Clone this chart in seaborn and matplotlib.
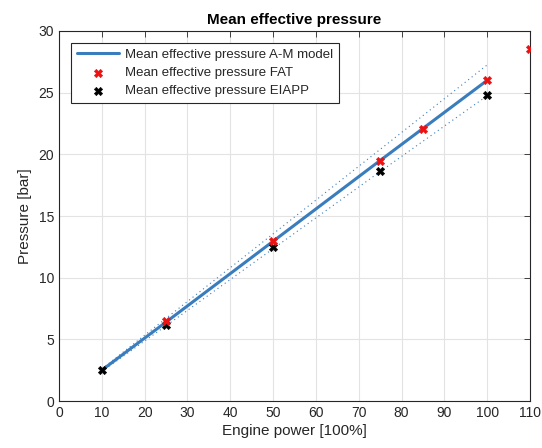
import matplotlib
matplotlib.use("Agg")
import matplotlib.pyplot as plt
import seaborn as sns
import pandas as pd

# data
model_power = [10, 25, 50, 75, 100]
model_mep = [2.5, 6.4, 12.95, 19.5, 26.0]
upper_mep = [2.6, 6.7, 13.55, 20.4, 27.25]
lower_mep = [2.4, 6.1, 12.35, 18.6, 24.75]
fat_power = [25, 50, 75, 85, 100, 110]
fat_mep = [6.5, 12.95, 19.45, 22.05, 26.0, 28.55]
eiapp_power = [10, 25, 50, 75, 100]
eiapp_mep = [2.5, 6.2, 12.45, 18.65, 24.85]

sns.set_style("white")
plt.rcParams['font.family'] = ['Liberation Sans', 'DejaVu Sans']

fig = plt.figure(figsize=(5.42, 4.48), dpi=100)
ax = fig.add_axes([59/542, 47/448, 471/542, 370/448])

blue = "#3a7dbd"
df_m = pd.DataFrame({"p": model_power, "m": model_mep, "u": upper_mep, "l": lower_mep})
sns.lineplot(data=df_m, x="p", y="m", ax=ax, color=blue, lw=2.2,
             label="Mean effective pressure A-M model")
sns.lineplot(data=df_m, x="p", y="u", ax=ax, color=blue, lw=0.8, ls=(0, (1, 3)), label="_nolegend_")
sns.lineplot(data=df_m, x="p", y="l", ax=ax, color=blue, lw=0.8, ls=(0, (1, 3)), label="_nolegend_")
sns.scatterplot(x=fat_power, y=fat_mep, ax=ax, marker="X", color="#ee1111", s=36,
                edgecolor="#ee1111", linewidth=0.4, label="Mean effective pressure FAT", zorder=5)
sns.scatterplot(x=eiapp_power, y=eiapp_mep, ax=ax, marker="X", color="black", s=36,
                edgecolor="black", linewidth=0.4, label="Mean effective pressure EIAPP", zorder=4)

ax.set_xlim(0, 110)
ax.set_ylim(0, 30)
ax.set_xticks(range(0, 111, 10))
ax.set_yticks(range(0, 31, 5))
ax.grid(True, color="#e3e3e3", lw=0.8)
ax.set_axisbelow(True)
for s in ax.spines.values():
    s.set_color("#262626")
    s.set_linewidth(0.8)
ax.tick_params(direction="in", top=True, right=True, length=4, width=0.6,
               labelsize=10, colors="#262626", labelcolor="#262626")
ax.set_xlabel("Engine power [100%]", fontsize=11, color="#262626", labelpad=3)
ax.set_ylabel("Pressure [bar]", fontsize=11, color="#262626", labelpad=5)
ax.set_title("Mean effective pressure", fontsize=11, fontweight="bold", color="black", pad=5)

leg = ax.legend(loc="upper left", bbox_to_anchor=(0.025, 0.968), fontsize=9.5, frameon=True,
                fancybox=False, edgecolor="#262626", framealpha=1, handlelength=3.2,
                borderpad=0.45, labelspacing=0.45, handletextpad=0.45, borderaxespad=0)
leg.get_frame().set_linewidth(0.8)

fig.savefig("out.png", dpi=100)
